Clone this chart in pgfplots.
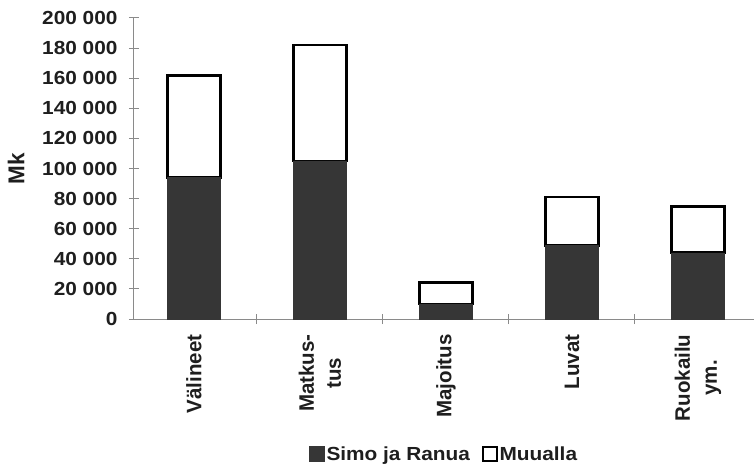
\documentclass[border=0pt]{standalone}
\usepackage{fontspec}
\setmainfont{Liberation Sans}
\newfontfamily\tickfont[FakeStretch=1.1]{Liberation Sans}
\newfontfamily\labfont[FakeStretch=0.98]{Liberation Sans}
\usepackage{pgfplots}
\pgfplotsset{compat=1.18}
\definecolor{dark}{HTML}{363636}
\definecolor{axgray}{HTML}{8A8A8A}
\definecolor{txt}{HTML}{1E1E1E}
\begin{document}
\begin{tikzpicture}
\useasboundingbox (-134bp,-146bp) rectangle (620bp,319bp);
\begin{axis}[
  at={(0,0)}, anchor=south west,
  scale only axis, width=620bp, height=301bp,
  ybar stacked, bar width=53bp,
  xmin=-0.476, xmax=4.445, ymin=0, ymax=200000,
  axis lines*=left,
  axis line style={axgray, line width=1bp},
  xtick={0,...,4},
  xticklabels={V\"alineet, {Matkus-\\tus}, Majoitus, Luvat, {Ruokailu\\ym.}},
  major x tick style={draw=none},
  minor xtick={0.5,1.5,2.5,3.5},
  ytick={0,20000,...,200000},
  tick align=center, major tick length=10bp, minor tick length=10bp,
  tick style={axgray, line width=1bp},
  scaled y ticks=false,
  yticklabel shift=8bp,
  xticklabel shift=7bp,
  yticklabel style={text=txt, font=\tickfont\bfseries\fontsize{19}{22}\selectfont,
    /pgf/number format/fixed, /pgf/number format/1000 sep={\ },
    /pgf/number format/assume math mode=true},
  xticklabel style={text=txt, rotate=90, anchor=east, align=center,
    font=\labfont\bfseries\fontsize{21}{27}\selectfont},
  ylabel={Mk},
  every axis y label/.style={at={(axis description cs:-0.19,0.5)}, rotate=90, anchor=center,
    text=txt, font=\labfont\bfseries\fontsize{23}{22}\selectfont},
  legend style={at={(0.5,-0.449)}, anchor=center, draw=none, fill=none,
    legend columns=2, text=txt,
    font=\tickfont\bfseries\fontsize{19}{22}\selectfont,
    /tikz/every even column/.append style={column sep=10bp}},
  legend image code/.code={\draw[#1, line width=1.6bp] (0bp,-7bp) rectangle (14bp,7bp);},
]
\addplot[fill=dark, draw=dark] coordinates {(0,94000) (1,105000) (2,10000) (3,49000) (4,44000)};
\addplot[fill=white, draw=black, line width=2.8bp] coordinates {(0,68000) (1,77000) (2,14000) (3,32000) (4,31000)};
\legend{Simo ja Ranua, Muualla}
\end{axis}
\end{tikzpicture}
\end{document}
